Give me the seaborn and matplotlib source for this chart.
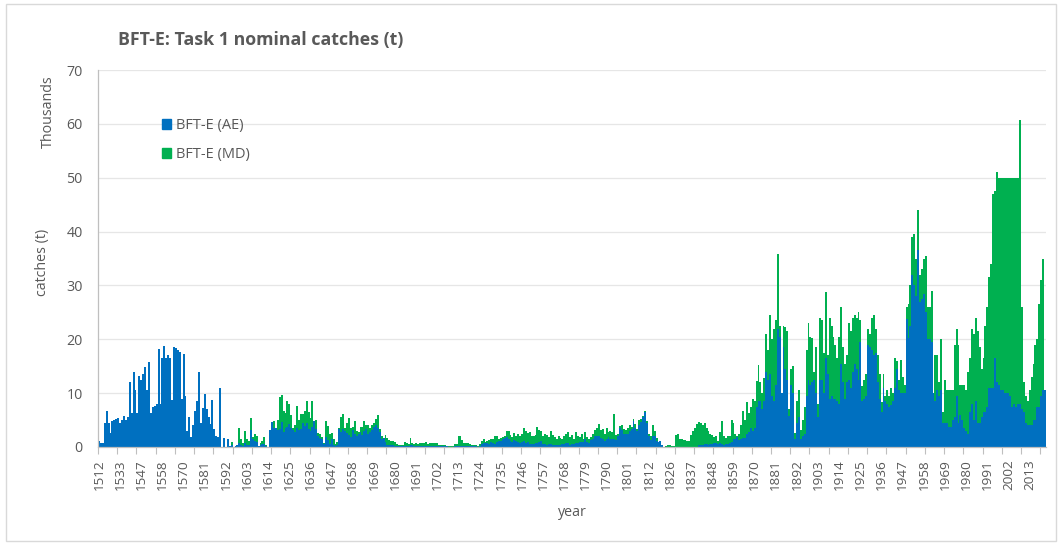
import pandas as pd
import seaborn as sns
import matplotlib.pyplot as plt
from matplotlib.patches import Patch, Rectangle

# Year categories (the early record has gaps, and so does the 1818-1820 stretch)
years = ([1512, 1513, 1514, 1516, 1518, 1520, 1522, 1524, 1526, 1528, 1531]
         + [1533, 1534, 1535, 1537, 1538, 1539, 1541, 1542, 1543, 1545, 1546]
         + [1547, 1548, 1549, 1550, 1551, 1552, 1553, 1554, 1555, 1556, 1557]
         + [1558, 1559, 1560, 1561, 1562, 1563, 1565, 1566, 1567, 1568, 1569]
         + list(range(1570, 1818))
         + list(range(1821, 2022)))

# Catches in thousand t, East Atlantic (AE)
ae_catch = [
    1.2, 0.7, 0.7, 4.5, 6.7, 4.5, 2.6, 4.8, 5.0, 5.2,
    5.4, 4.5, 5.0, 5.8, 5.0, 5.6, 12.0, 6.3, 13.9, 10.6,
    6.4, 13.2, 12.5, 13.5, 14.8, 10.6, 15.8, 6.3, 7.5, 7.7,
    7.9, 18.2, 7.9, 16.5, 18.7, 16.5, 17.1, 16.5, 8.8, 18.6,
    18.4, 18.0, 17.6, 9.0, 17.3, 9.4, 2.9, 5.6, 1.9, 4.1,
    6.6, 8.5, 13.9, 4.5, 7.2, 9.9, 7.0, 5.5, 4.3, 8.8,
    3.3, 2.0, 1.9, 10.9, 0, 1.7, 0, 1.4, 0.2, 0.4,
    0, 0.2, 0.4, 0.7, 0.3, 0.2, 0.7, 0.4, 0.4,
    # 1600s
    3.2, 1.5, 1.2, 1.0, 0.1, 0.3, 0.5, 0.6, 0.1, 0,
    3.1, 4.6, 3.6, 3.6, 3.2, 3.4, 4.6, 2.8, 3.5, 3.7,
    4.2, 3.6, 3.1, 2.7, 3.5, 3.1, 3.4, 4.5, 3.9, 4.5,
    3.4, 3.0, 3.8, 4.8, 3.3, 2.0, 1.6, 1.5, 0.6, 1.8,
    1.3, 0.5, 1.4, 0.3, 0.1, 0.3, 3.4, 2.8, 3.3, 3.0,
    2.6, 2.3, 1.9, 3.2, 2.4, 2.0, 2.5, 2.8, 2.3, 3.0,
    3.3, 2.5, 2.8, 3.1, 3.7, 4.0, 3.6, 2.8, 1.5, 1.7,
    1.0, 0.4, 0.3, 0.3, 0.3, 0.2, 0.1, 0.1, 0.1, 0.2,
    0.2, 0.2, 0.1, 0.3, 0.3, 0.2, 0.2, 0.1,
    # 1700s
    0.1, 0.1, 0.1, 0.1, 0.1, 0.1, 0.1, 0.1, 0.1, 0.1,
    0.1, 0.1, 0.1, 0.1, 0.1, 0, 0, 0, 0.1, 0.1,
    0.2, 0.2, 0.1, 0.1, 0.1, 0.1, 0.1, 0.1, 0.1, 0.1, 0, 0.1,
    0.5, 0.7, 0.7, 0.8, 0.6, 0.9, 0.7, 0.6, 1.0, 1.1,
    1.2, 1.5, 1.7, 1.9, 1.4, 1.2, 1.0, 1.3, 1.2, 1.0,
    0.8, 1.0, 1.1, 0.8, 0.9, 0.6, 0.5, 0.6, 0.7, 0.8,
    1.0, 1.1, 0.6, 0.5, 0.4, 0.5, 0.6, 0.4, 0.3, 0.3,
    0.3, 0.3, 0.5, 0.6, 0.8, 0.8, 0.4, 0.5, 0.6, 0.8,
    0.7, 1.0,
    # late 1700s - 1800s
    1.0, 0.9, 1.5, 1.0, 0.7, 1.3, 1.5, 2.1, 2.0, 2.0,
    1.7, 1.5, 1.2, 1.5, 1.8, 1.4, 1.4, 1.4, 1.3, 2.0,
    3.5, 3.2, 2.5, 2.5, 2.4, 3.0, 3.3, 4.9, 3.6, 2.9,
    4.0, 4.6, 5.5, 6.5, 4.4, 2.0, 1.3, 2.0, 2.0, 1.1,
    1.0, 1.2, 0.4, 0, 0, 0, 0, 0, 0, 0,
    0, 0, 0, 0, 0, 0, 0, 0, 0, 0,
    0, 0.3, 0.3, 0.4, 0.5, 0.6, 0.4, 0.5, 0.6, 0.7,
    0.8, 0.6,
    # 1860s - 1940s
    0.7, 0.6, 0.4, 0.5, 0.6, 0.8, 1.0, 1.5, 1.5, 1.8,
    1.3, 1.4, 1.6, 1.6, 2.5, 2.7, 3.5, 3.0, 3.6, 7.5,
    8.6, 8.5, 7.0, 8.5, 14.0, 12.5, 13.5, 9.5, 8.5, 11.5,
    22.0, 20.5, 10.0, 18.5, 14.5, 12.5, 5.8, 11.5, 10.0, 1.5,
    4.5, 5.5, 1.5, 2.0, 2.5, 9.5, 12.5, 11.5, 12.0, 12.5,
    10.0, 5.5, 12.5, 12.5, 10.0, 16.5, 13.5, 9.0, 9.5, 9.0,
    9.0, 8.5, 8.0, 15.5, 12.0, 9.0, 12.0, 12.5, 11.0, 14.0,
    15.5, 14.5, 12.5, 19.5, 8.5, 9.0, 9.5, 19.0, 18.5, 18.0,
    17.0, 17.5, 12.0, 9.0,
    # 1940s - 2021
    6.5, 11.0, 8.5, 8.0, 7.5, 7.8, 8.5, 11.0, 14.5, 10.5,
    10.0, 10.0, 10.0, 23.8, 20.3, 22.5, 32.0, 30.0, 28.0, 36.5,
    27.0, 27.5, 28.5, 25.0, 20.0, 20.0, 19.5, 10.0, 8.5, 10.5,
    9.5, 10.5, 4.5, 4.5, 4.5, 3.8, 3.8, 5.0, 5.5, 9.5,
    4.5, 6.0, 5.0, 3.5, 3.0, 2.5, 6.5, 8.0, 5.0, 8.5,
    4.5, 4.5, 5.5, 6.5, 6.5, 7.5, 11.0, 11.0, 11.0, 16.5,
    12.0, 11.5, 10.5, 10.5, 10.0, 10.0, 10.0, 9.5, 7.5, 8.0,
    7.5, 8.0, 8.0, 7.0, 6.5, 4.5, 4.0, 4.0, 4.0, 5.0,
    5.0, 7.5, 7.5, 9.5, 10.5, 10.6,
]

# Catches in thousand t, Mediterranean (MD)
md_catch = [
    0, 0, 0, 0, 0, 0, 0, 0, 0, 0,
    0, 0, 0, 0, 0, 0, 0, 0, 0, 0,
    0, 0, 0, 0, 0, 0, 0, 0, 0, 0,
    0, 0, 0, 0, 0, 0, 0, 0, 0, 0,
    0, 0, 0, 0, 0, 0, 0, 0, 0, 0,
    0, 0, 0, 0, 0, 0, 0, 0, 0, 0,
    0, 0, 0, 0, 0, 0, 0, 0, 0, 0.6,
    0, 0, 0, 2.8, 1.1, 0.5, 2.2, 1.0, 0.7,
    # 1600s
    2.2, 0.4, 1.3, 1.0, 0.1, 0.4, 0.6, 1.2, 0.2, 0,
    0, 0, 1.2, 0, 1.8, 5.9, 5.0, 3.9, 2.8, 4.9,
    3.8, 2.4, 0.5, 1.3, 4.1, 1.9, 2.8, 1.7, 2.7, 4.1,
    3.1, 2.3, 4.8, 0, 1.7, 0.6, 0.9, 0.3, 0.2, 3.0,
    2.6, 1.9, 1.2, 1.1, 0.5, 0.7, 0.2, 2.8, 2.9, 0.6,
    1.8, 3.0, 1.7, 0.6, 2.5, 1.0, 0.2, 1.0, 1.4, 1.9,
    0.7, 1.6, 0.7, 1.0, 0.8, 1.2, 2.4, 0.5, 0.5, 0,
    1.3, 1.2, 1.0, 0.9, 0.9, 0.8, 0.4, 0.2, 0.3, 0.2,
    0.8, 0.6, 0.5, 1.3, 0.4, 0.4, 0.6, 0.4,
    # 1700s
    0.7, 0.7, 0.7, 0.9, 0.5, 0.7, 0.7, 0.7, 0.7, 0.6,
    0.2, 0.2, 0.2, 0.2, 0.1, 0.1, 0.1, 0.1, 0.4, 0.4,
    1.9, 1.8, 1.2, 0.7, 0.6, 0.7, 0.5, 0.3, 0.2, 0.2, 0.2, 0.4,
    0.7, 0.8, 0.3, 0.3, 0.7, 0.6, 0.7, 1.5, 1.1, 0.4,
    0.5, 0.3, 0.3, 1.1, 1.5, 1.1, 0.8, 1.3, 0.8, 1.5,
    1.3, 1.4, 2.4, 2.2, 1.7, 2.2, 1.6, 1.4, 1.5, 3.0,
    2.2, 1.8, 1.4, 2.0, 1.8, 1.4, 2.3, 1.9, 1.5, 1.2,
    1.7, 1.3, 1.0, 1.5, 1.7, 2.0, 1.4, 1.8, 0.9, 2.0,
    1.4, 0.9,
    # late 1700s - 1800s
    1.5, 0.6, 1.3, 0.8, 0.7, 0.6, 0.9, 1.1, 1.5, 2.2,
    1.5, 1.9, 1.3, 2.1, 0.9, 1.5, 1.4, 4.7, 0.9, 0.5,
    0.4, 0.8, 0.8, 0.6, 1.1, 1.0, 0.5, 0.3, 0.7, 0.5,
    1.0, 0.6, 0.3, 0.2, 0.5, 0.4, 0.8, 2.1, 1.0, 0.5,
    0, 0, 0, 0, 0.1, 0.3, 0.3, 0.2, 0.2, 2.2,
    2.5, 1.5, 1.5, 1.3, 1.3, 1.2, 1.1, 2.3, 3.0, 3.5,
    4.3, 4.4, 4.1, 3.6, 3.9, 2.9, 2.6, 1.9, 1.6, 1.2,
    1.2, 0.6,
    # 1860s - 1940s
    2.1, 4.3, 1.6, 1.1, 1.5, 1.2, 4.1, 2.9, 1.0, 0.2,
    1.1, 2.6, 5.0, 3.4, 5.9, 3.6, 4.0, 6.0, 5.0, 4.7,
    6.6, 3.5, 3.0, 4.3, 7.0, 5.5, 11.0, 10.5, 13.5, 12.0,
    13.8, 2.0, 0, 4.0, 7.8, 9.0, 1.2, 3.0, 5.0, 1.1,
    4.1, 5.0, 1.7, 3.0, 5.0, 8.5, 10.5, 9.0, 8.3, 1.5,
    8.5, 2.5, 11.5, 11.0, 7.5, 12.3, 3.5, 15.0, 13.0, 11.5,
    10.0, 8.0, 12.5, 10.5, 6.5, 6.5, 5.0, 10.5, 10.5, 10.0,
    9.0, 9.5, 12.5, 4.0, 2.8, 3.5, 4.0, 3.0, 2.5, 6.0,
    7.5, 4.5, 5.0, 4.5,
    # 1940s - 2021
    1.9, 2.5, 0.9, 2.5, 2.0, 3.2, 1.5, 5.5, 1.5, 2.0,
    6.2, 3.0, 1.5, 2.2, 6.2, 7.5, 6.9, 9.5, 7.0, 7.5,
    5.0, 5.5, 6.5, 10.5, 6.0, 6.0, 9.5, 0, 8.5, 6.5,
    2.5, 9.5, 2.0, 8.0, 6.0, 6.7, 6.7, 5.5, 13.5, 12.5,
    14.5, 5.5, 6.5, 8.0, 7.5, 11.5, 10.0, 14.0, 16.0, 15.5,
    17.0, 14.0, 9.0, 10.0, 16.0, 18.5, 20.5, 23.0, 36.0, 31.0,
    39.0, 38.5, 39.5, 39.5, 40.0, 40.0, 40.0, 40.5, 42.5, 42.0,
    42.5, 42.0, 52.8, 19.0, 5.5, 5.0, 4.5, 6.5, 9.0, 10.5,
    14.0, 12.5, 19.0, 21.5, 24.5, 0,
]

series_labels = ["BFT-E (AE)", "BFT-E (MD)"]
blue, green, grey = "#0070C0", "#00B050", "#595959"

df = pd.DataFrame({"year": [str(y) for y in years], "AE": ae_catch, "MD": md_catch})
df["total"] = df["AE"] + df["MD"]

sns.set_theme(style="white")
plt.rcParams['font.family'] = ['Open Sans', 'DejaVu Sans']

fig = plt.figure(figsize=(10.62, 5.44), dpi=100)
ax = fig.add_axes([98 / 1062, 97 / 544, 948 / 1062, 377 / 544])

# stacked bars: total in green behind, AE in blue in front
sns.barplot(data=df, x="year", y="total", color=green, width=1.0, saturation=1,
            errorbar=None, linewidth=0, ax=ax)
sns.barplot(data=df, x="year", y="AE", color=blue, width=1.0, saturation=1,
            errorbar=None, linewidth=0, ax=ax)

n = len(years)
ax.set_xlim(-0.5, n - 0.5)
ax.set_ylim(0, 70)
ax.set_yticks(range(0, 71, 10))
ax.set_xticks(range(0, n, 11))
ax.set_xticklabels([str(y) for y in years[::11]], rotation=90)
ax.set_xticks([i - 0.5 for i in range(0, n, 10)], minor=True)
ax.tick_params(axis='x', which='major', length=0, pad=9, labelsize=9.7, labelcolor=grey)
ax.tick_params(axis='x', which='minor', length=5, width=0.8, color="#bfbfbf", bottom=True)
ax.tick_params(axis='y', length=0, pad=11, labelsize=10.3, labelcolor=grey)

ax.yaxis.grid(True, color="#e6e6e6", linewidth=0.9)
ax.set_axisbelow(True)
for side in ["top", "right"]:
    ax.spines[side].set_visible(False)
for side in ["left", "bottom"]:
    ax.spines[side].set_color("#bfbfbf")
    ax.spines[side].set_linewidth(0.9)

ax.set_xlabel("")
ax.set_ylabel("catches (t)", fontsize=10.3, color=grey)
ax.yaxis.set_label_coords(-0.051, 0.49)
fig.text(572 / 1062, 1 - 512 / 544, "year", ha="center", va="center", fontsize=10.3, color=grey)
fig.text(48 / 1062, 1 - 112 / 544, "Thousands", rotation=90, ha="center", va="center",
         fontsize=10.3, color=grey)
fig.text(118 / 1062, 1 - 40 / 544, "BFT-E: Task 1 nominal catches (t)", ha="left", va="center",
         fontsize=12.8, fontweight="bold", color=grey)

handles = [Patch(color=blue), Patch(color=green)]
ax.legend(handles, series_labels, loc="upper left", bbox_to_anchor=(0.0675, 0.873),
          frameon=False, handlelength=0.65, handleheight=0.65, handletextpad=0.3,
          labelspacing=0.99, borderaxespad=0, borderpad=0, fontsize=10.5, labelcolor=grey)

fig.patches.append(Rectangle((0.006, 0.006), 0.988, 0.986, transform=fig.transFigure,
                             fill=False, edgecolor="#d9d9d9", linewidth=1))

fig.savefig("out.png", dpi=100)
